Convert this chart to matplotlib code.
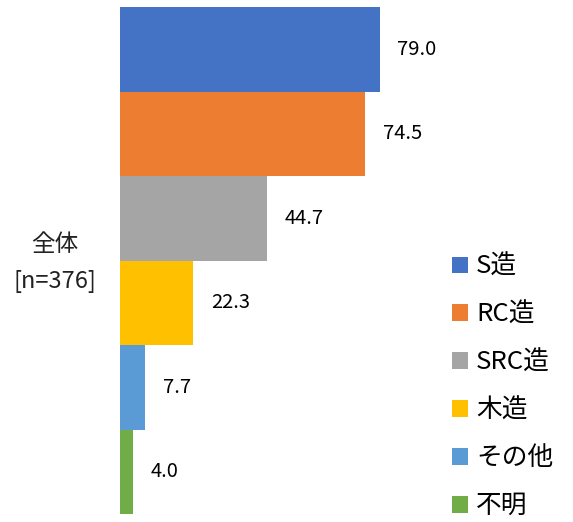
import matplotlib.pyplot as plt
from matplotlib.patches import Patch

plt.rcParams['font.family'] = ['Noto Sans CJK JP', 'DejaVu Sans']

categories = ['S造', 'RC造', 'SRC造', '木造', 'その他', '不明']
values = [79.0, 74.5, 44.7, 22.3, 7.7, 4.0]
colors = ['#4472C4', '#ED7D31', '#A5A5A5', '#FFC000', '#5B9BD5', '#70AD47']
group_label = '全体\n[n=376]'

W, H = 573, 522
fig = plt.figure(figsize=(W / 100, H / 100), dpi=100)
ax = fig.add_axes([120 / W, 8 / H, (W - 120) / W, 507 / H])

px_per_unit = 260 / 79.0
ax.set_xlim(0, (W - 120) / px_per_unit)
ax.set_ylim(len(values) - 0.5, -0.5)

pos = list(range(len(values)))
bars = ax.barh(pos, values, height=1.0, color=colors)
for y, v in zip(pos, values):
    ax.annotate(f'{v:.1f}', (v, y), xytext=(12.5, 0), textcoords='offset points',
                ha='left', va='center', fontsize=14.5, color='#000000')
ax.axis('off')

fig.text(55 / W, 1 - 263 / H, group_label, ha='center', va='center',
         fontsize=17, linespacing=1.75, color='#222222')

handles = [Patch(facecolor=c) for c in colors]
fig.legend(handles, categories, loc='upper left', frameon=False,
           bbox_to_anchor=(452 / W, 1 - 254 / H), fontsize=18.5,
           handlelength=0.63, handleheight=0.63, handletextpad=0.3,
           labelspacing=0.85, borderpad=0, borderaxespad=0)

fig.savefig('out.png', dpi=100)
